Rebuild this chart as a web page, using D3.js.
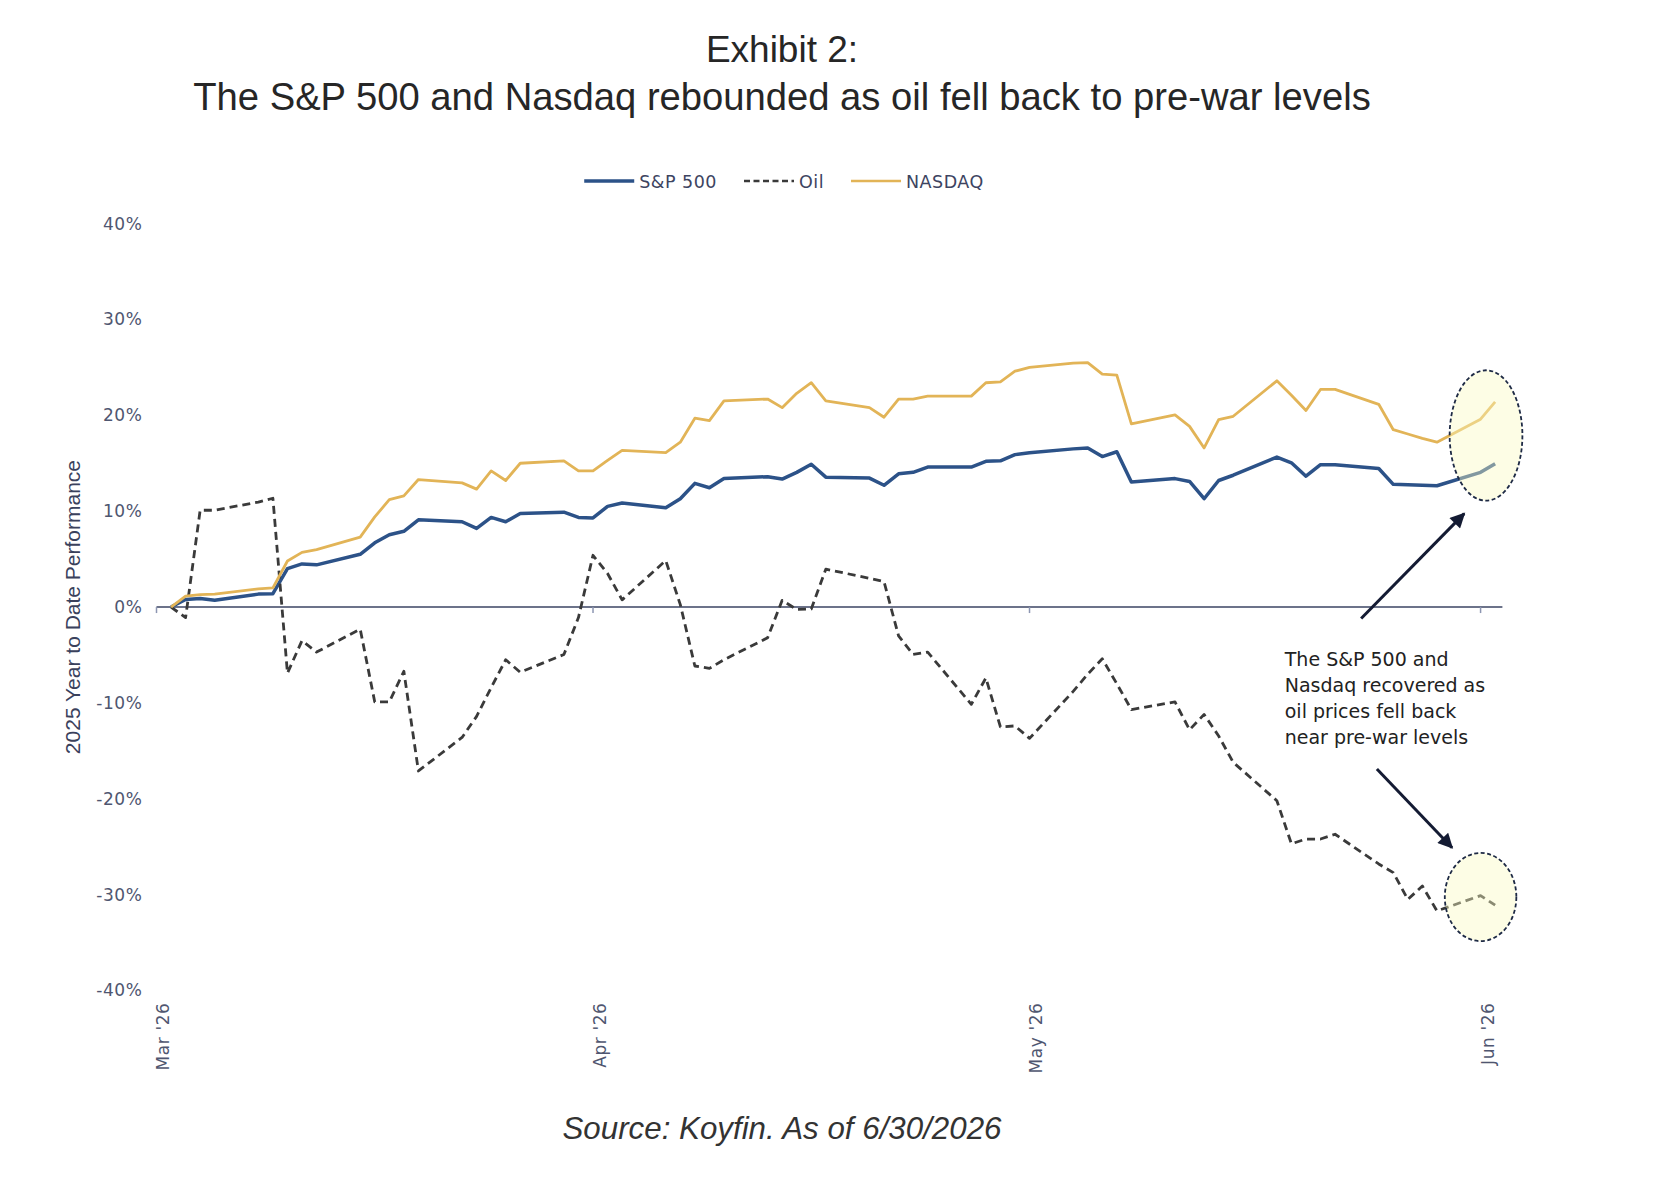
<!DOCTYPE html>
<html>
<head>
<meta charset="utf-8">
<script src="https://cdn.jsdelivr.net/npm/d3@7"></script>
<style>
  body { margin: 0; background: #fff; }
  svg { display: block; }
</style>
</head>
<body>
<svg id="chart" width="1654" height="1178"></svg>
<script>
// trading days shown on the chart
const dates = [
  '2026-03-03', '2026-03-04', '2026-03-05', '2026-03-06',
  '2026-03-09', '2026-03-10', '2026-03-11', '2026-03-12', '2026-03-13',
  '2026-03-16', '2026-03-17', '2026-03-18', '2026-03-19', '2026-03-20',
  '2026-03-23', '2026-03-24', '2026-03-25', '2026-03-26', '2026-03-27',
  '2026-03-30', '2026-03-31', '2026-04-01', '2026-04-02', '2026-04-03',
  '2026-04-06', '2026-04-07', '2026-04-08', '2026-04-09', '2026-04-10',
  '2026-04-13', '2026-04-14', '2026-04-15', '2026-04-16', '2026-04-17',
  '2026-04-20', '2026-04-21', '2026-04-22', '2026-04-23', '2026-04-24',
  '2026-04-27', '2026-04-28', '2026-04-29', '2026-04-30', '2026-05-01',
  '2026-05-04', '2026-05-05', '2026-05-06', '2026-05-07', '2026-05-08',
  '2026-05-11', '2026-05-12', '2026-05-13', '2026-05-14', '2026-05-15',
  '2026-05-18', '2026-05-19', '2026-05-20', '2026-05-21', '2026-05-22',
  '2026-05-25', '2026-05-26', '2026-05-27', '2026-05-28', '2026-05-29',
  '2026-06-01', '2026-06-02'
];

// % performance
const sp500 = [
  0, 0.8, 0.9, 0.7,
  1.35, 1.4, 4.0, 4.5, 4.4,
  5.5, 6.7, 7.55, 7.9, 9.1,
  8.9, 8.2, 9.35, 8.9, 9.75,
  9.9, 9.35, 9.3, 10.5, 10.85,
  10.35, 11.3, 12.9, 12.45, 13.4,
  13.6, 13.35, 14.05, 14.9, 13.55,
  13.45, 12.7, 13.9, 14.05, 14.6,
  14.6, 15.2, 15.25, 15.9, 16.1,
  16.5, 16.6, 15.7, 16.2, 13.05,
  13.4, 13.1, 11.3, 13.2, 13.75,
  15.65, 15.05, 13.65, 14.85, 14.85,
  14.45, 12.8, 12.75, 12.7, 12.65,
  14.05, 14.95
];

const oil = [
  0, -1.1, 10.1, 10.1,
  10.95, 11.35, -6.9, -3.5, -4.7,
  -2.3, -9.9, -9.9, -6.7, -17.1,
  -13.6, -11.4, -8.4, -5.5, -6.8,
  -4.95, -1.1, 5.4, 3.5, 0.75,
  4.85, 0.25, -6.15, -6.4, -5.5,
  -3.2, 0.7, -0.25, -0.2, 3.95,
  3.0, 2.65, -3.0, -4.95, -4.7,
  -10.15, -7.4, -12.5, -12.4, -13.7,
  -8.8, -7.0, -5.4, -8.0, -10.7,
  -9.9, -12.8, -11.2, -13.45, -16.2,
  -20.2, -24.7, -24.2, -24.2, -23.7,
  -26.8, -27.7, -30.5, -29.1, -31.7,
  -30.1, -31.1
];

const nasdaq = [
  0, 1.15, 1.3, 1.35,
  1.9, 2.0, 4.8, 5.7, 6.0,
  7.3, 9.4, 11.2, 11.6, 13.3,
  12.95, 12.3, 14.2, 13.2, 15.0,
  15.25, 14.2, 14.2, 15.3, 16.35,
  16.1, 17.2, 19.7, 19.45, 21.5,
  21.7, 20.8, 22.3, 23.4, 21.5,
  20.8, 19.8, 21.7, 21.7, 22.0,
  22.0, 23.4, 23.5, 24.6, 25.0,
  25.45, 25.5, 24.3, 24.2, 19.1,
  20.05, 18.85, 16.6, 19.55, 19.9,
  23.6, 22.1, 20.5, 22.7, 22.7,
  21.15, 18.5, 18.05, 17.6, 17.2,
  19.6, 21.4
];

const yTicks = [-40, -30, -20, -10, 0, 10, 20, 30, 40];
const xTicks = ['2026-03-02', '2026-04-01', '2026-05-01', '2026-06-01'];
const seriesNames = ['S&P 500', 'Oil', 'NASDAQ'];
const noteLines = ['The S&P 500 and', 'Nasdaq recovered as', 'oil prices fell back', 'near pre-war levels'];

// annotation anchors, in data units (date, %)
const circles = [
  { at: '2026-06-01T09:00', value: 17.9, days: 2.5, pct: 6.8 },
  { at: '2026-06-01T00:00', value: -30.25, days: 2.45, pct: 4.6 }
];
const arrows = [
  { from: ['2026-05-23T19:00', -1.2], to: ['2026-05-30T21:00', 9.75] },
  { from: ['2026-05-24T21:00', -16.9], to: ['2026-05-30T01:00', -25.1] }
];
const noteAt = ['2026-05-18T13:00', -6.16];

const W = 1654, H = 1178;
const margin = { left: 156.5, right: 151.6, top: 223.6, bottom: 187.5 };
const colors = { sp: '#2c5288', oil: '#3a3a3a', nq: '#e2b457' };
const axisText = '#4f5670';

const parseDay = d3.timeParse('%Y-%m-%d');
const parseTime = d3.timeParse('%Y-%m-%dT%H:%M');
const days = dates.map(parseDay);

const svg = d3.select('#chart');
svg.append('rect').attr('width', W).attr('height', H).attr('fill', '#fff');

const x = d3.scaleTime()
  .domain([parseDay('2026-03-02'), parseTime('2026-06-02T12:00')])
  .range([margin.left, W - margin.right]);
const y = d3.scaleLinear()
  .domain([-40, 40])
  .range([H - margin.bottom, margin.top]);

// Titles
svg.append('text')
  .attr('x', 782).attr('y', 62)
  .attr('text-anchor', 'middle')
  .attr('font-family', 'Liberation Sans, Arial, sans-serif')
  .attr('font-size', 37).attr('fill', '#262626')
  .text('Exhibit 2:');
svg.append('text')
  .attr('x', 782).attr('y', 110)
  .attr('text-anchor', 'middle')
  .attr('font-family', 'Liberation Sans, Arial, sans-serif')
  .attr('font-size', 38.2).attr('fill', '#262626')
  .text('The S&P 500 and Nasdaq rebounded as oil fell back to pre-war levels');

// Legend
const legendStyles = [
  { color: colors.sp, width: 3.5, dash: '' },
  { color: colors.oil, width: 2.5, dash: '6,3.5' },
  { color: colors.nq, width: 2.5, dash: '' }
];
const legend = svg.append('g');
let lx = 0;
seriesNames.forEach((name, i) => {
  const st = legendStyles[i];
  legend.append('line')
    .attr('x1', lx).attr('x2', lx + 50).attr('y1', 0).attr('y2', 0)
    .attr('stroke', st.color).attr('stroke-width', st.width)
    .attr('stroke-dasharray', st.dash);
  const t = legend.append('text')
    .attr('x', lx + 55).attr('y', 6.5)
    .attr('font-family', 'DejaVu Sans, sans-serif')
    .attr('font-size', 17.5).attr('letter-spacing', 0.5)
    .attr('fill', '#3d4461')
    .text(name);
  lx += 55 + t.node().getComputedTextLength() + 27;
});
lx -= 27;
legend.attr('transform', `translate(${784 - lx / 2},181)`);

// Y tick labels
svg.append('g').selectAll('text')
  .data(yTicks)
  .join('text')
  .attr('x', margin.left - 14)
  .attr('y', d => y(d))
  .attr('dy', '0.35em')
  .attr('text-anchor', 'end')
  .attr('font-family', 'DejaVu Sans, sans-serif')
  .attr('font-size', 17).attr('letter-spacing', 0.6)
  .attr('fill', axisText)
  .text(d => d + '%');

// Y title
svg.append('text')
  .attr('transform', `translate(80,${y(0)}) rotate(-90)`)
  .attr('text-anchor', 'middle')
  .attr('font-family', 'Liberation Sans, Arial, sans-serif')
  .attr('font-size', 21).attr('fill', '#3a415c')
  .text('2025 Year to Date Performance');

// Zero line and month ticks
svg.append('line')
  .attr('x1', x.range()[0]).attr('x2', x.range()[1])
  .attr('y1', y(0)).attr('y2', y(0))
  .attr('stroke', '#3b4463').attr('stroke-width', 1.6);
const tickDates = xTicks.map(parseDay);
svg.append('g').selectAll('line')
  .data(tickDates)
  .join('line')
  .attr('x1', d => x(d)).attr('x2', d => x(d))
  .attr('y1', y(0)).attr('y2', y(0) + 6)
  .attr('stroke', '#8d96b2').attr('stroke-width', 1.5);
const fmt = d3.timeFormat("%b '%y");
svg.append('g').selectAll('text')
  .data(tickDates)
  .join('text')
  .attr('transform', d => `translate(${x(d) + 7},${y(-40) + 12}) rotate(-90)`)
  .attr('dy', '0.35em')
  .attr('text-anchor', 'end')
  .attr('font-family', 'DejaVu Sans, sans-serif')
  .attr('font-size', 17).attr('letter-spacing', 0.6)
  .attr('fill', axisText)
  .text(d => fmt(d));

// Series
const series = [
  { values: sp500, color: colors.sp, width: 3.5, dash: '' },
  { values: oil, color: colors.oil, width: 2.8, dash: '8,5' },
  { values: nasdaq, color: colors.nq, width: 2.8, dash: '' }
];
const line = d3.line()
  .x(d => x(d[0]))
  .y(d => y(d[1]));
svg.append('g').selectAll('path')
  .data(series)
  .join('path')
  .attr('d', s => line(days.map((d, i) => [d, s.values[i]])))
  .attr('fill', 'none')
  .attr('stroke', s => s.color)
  .attr('stroke-width', s => s.width)
  .attr('stroke-dasharray', s => s.dash)
  .attr('stroke-linejoin', 'round');

// Highlight ellipses
svg.append('g').selectAll('ellipse')
  .data(circles)
  .join('ellipse')
  .attr('cx', d => x(parseTime(d.at)))
  .attr('cy', d => y(d.value))
  .attr('rx', d => x(d3.timeHour.offset(parseTime(d.at), Math.round(d.days * 24))) - x(parseTime(d.at)))
  .attr('ry', d => y(d.value - d.pct) - y(d.value))
  .attr('fill', '#fafac0').attr('fill-opacity', 0.42)
  .attr('stroke', '#1e2a45').attr('stroke-width', 1.8)
  .attr('stroke-dasharray', '4,2.5');

// Arrows
svg.append('defs').append('marker')
  .attr('id', 'head')
  .attr('viewBox', '0 0 10 10')
  .attr('refX', 9).attr('refY', 5)
  .attr('markerUnits', 'userSpaceOnUse')
  .attr('markerWidth', 17).attr('markerHeight', 15)
  .attr('orient', 'auto')
  .append('path')
  .attr('d', 'M0,0 L10,5 L0,10 z')
  .attr('fill', '#141b33');
svg.append('g').selectAll('line')
  .data(arrows)
  .join('line')
  .attr('x1', d => x(parseTime(d.from[0]))).attr('y1', d => y(d.from[1]))
  .attr('x2', d => x(parseTime(d.to[0]))).attr('y2', d => y(d.to[1]))
  .attr('stroke', '#141b33').attr('stroke-width', 3)
  .attr('marker-end', 'url(#head)');

// Note
const note = svg.append('text')
  .attr('x', x(parseTime(noteAt[0])))
  .attr('y', y(noteAt[1]))
  .attr('font-family', 'DejaVu Sans, sans-serif')
  .attr('font-size', 19).attr('fill', '#222');
note.selectAll('tspan')
  .data(noteLines)
  .join('tspan')
  .attr('x', x(parseTime(noteAt[0])))
  .attr('dy', (d, i) => i === 0 ? 0 : 25.8)
  .text(d => d);

// Source
svg.append('text')
  .attr('x', 782).attr('y', 1139)
  .attr('text-anchor', 'middle')
  .attr('font-family', 'Liberation Sans, Arial, sans-serif')
  .attr('font-style', 'italic')
  .attr('font-size', 31.3).attr('fill', '#333')
  .text('Source: Koyfin. As of 6/30/2026');
</script>
</body>
</html>
